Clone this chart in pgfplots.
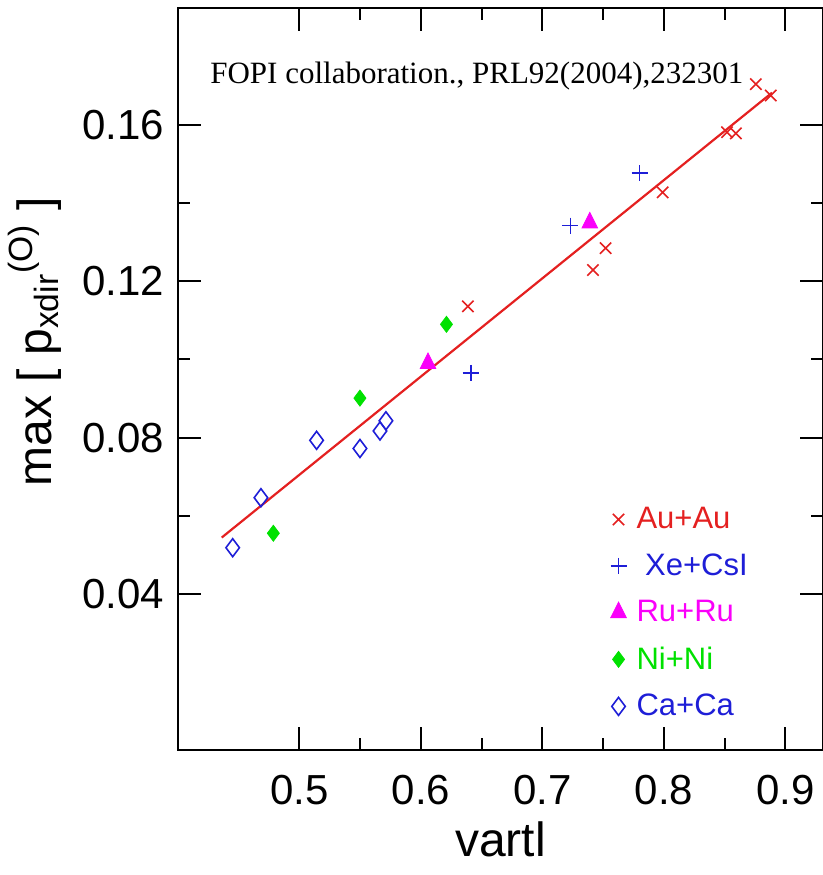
\documentclass[border=0pt]{standalone}
\usepackage{fontspec}
\setmainfont{Liberation Sans}
\newfontfamily\serifont{Liberation Serif}
\usepackage{pgfplots}
\pgfplotsset{compat=1.18}
\definecolor{cred}{RGB}{228,32,32}
\definecolor{cblue}{RGB}{30,30,215}
\definecolor{cmag}{RGB}{250,0,250}
\definecolor{cgreen}{RGB}{0,225,0}
\begin{document}
\begin{tikzpicture}
\useasboundingbox (-89pt,-62.5pt) rectangle (322.5pt,375pt);
\begin{axis}[
  scale only axis, width=322.5pt, height=371pt,
  xmin=0.4, xmax=0.931, ymin=0, ymax=0.19,
  xtick={0.5,0.6,0.7,0.8,0.9}, ytick={0.04,0.08,0.12,0.16},
  minor x tick num=1, minor y tick num=1,
  major tick length=11.5pt, minor tick length=6pt,
  tick style={black, line width=1pt},
  axis line style={line width=1pt},
  /pgf/number format/assume math mode=true,
  /pgf/number format/fixed, /pgf/number format/precision=2,
  /pgf/number format/fixed zerofill=false,
  ticklabel style={font=\fontsize{21}{24}\selectfont},
  xticklabel style={yshift=-9pt},
  yticklabel style={xshift=-3.5pt},
  xlabel={vartl},
  ylabel={max [ p\textsubscript{xdir}\textsuperscript{(O)} ]},
  label style={font=\fontsize{24}{28}\selectfont},
  xlabel style={at={(axis description cs:0.5,-0.12)}, anchor=center},
  ylabel style={at={(axis description cs:-0.222,0.55)}, anchor=center, rotate=0},
  legend style={draw=none, fill=none, at={(axis description cs:0.67,0.333)}, anchor=north west,
    font=\fontsize{15.5}{18}\selectfont, row sep=7pt, inner sep=0pt,
    nodes={inner xsep=5pt}},
  legend cell align=left,
  clip=false,
]
\addplot[only marks, mark=x, mark size=4pt, cred, line width=0.8pt] coordinates {
(0.6387,0.1136) (0.752,0.1285) (0.7416,0.1229) (0.799,0.1428)
(0.8757,0.1705) (0.888,0.1676) (0.852,0.1582) (0.8593,0.1579)};
\addlegendentry{\textcolor{cred}{Au+Au}}
\addplot[only marks, mark=+, mark size=4pt, cblue, line width=0.8pt] coordinates {
(0.780,0.1477) (0.723,0.1343) (0.641,0.0966)};
\addlegendentry{\textcolor{cblue}{\ Xe+CsI}}
\addplot[only marks, mark=triangle*, mark size=4.5pt, mark options={yscale=1.15}, cmag] coordinates {
(0.739,0.1350) (0.6058,0.0990)};
\addlegendentry{\textcolor{cmag}{Ru+Ru}}
\addplot[only marks, mark=diamond*, mark size=4pt, cgreen] coordinates {
(0.621,0.109) (0.5498,0.0901) (0.4785,0.0555)};
\addlegendentry{\textcolor{cgreen}{Ni+Ni}}
\addplot[only marks, mark=diamond, mark size=4.5pt, cblue, line width=0.8pt] coordinates {
(0.445,0.0518) (0.4683,0.0646) (0.5141,0.0793) (0.5498,0.0772) (0.5663,0.0817) (0.5712,0.0843)};
\addlegendentry{\textcolor{cblue}{Ca+Ca}}
\addplot[cred, line width=1.1pt, no marks, forget plot] coordinates {(0.436,0.0544) (0.889,0.1683)};
\node[anchor=west, inner sep=0pt, font=\serifont\fontsize{15.5}{18}\selectfont] at (axis cs:0.4263,0.1725) {FOPI collaboration., PRL92(2004),232301};
\end{axis}
\end{tikzpicture}
\end{document}
